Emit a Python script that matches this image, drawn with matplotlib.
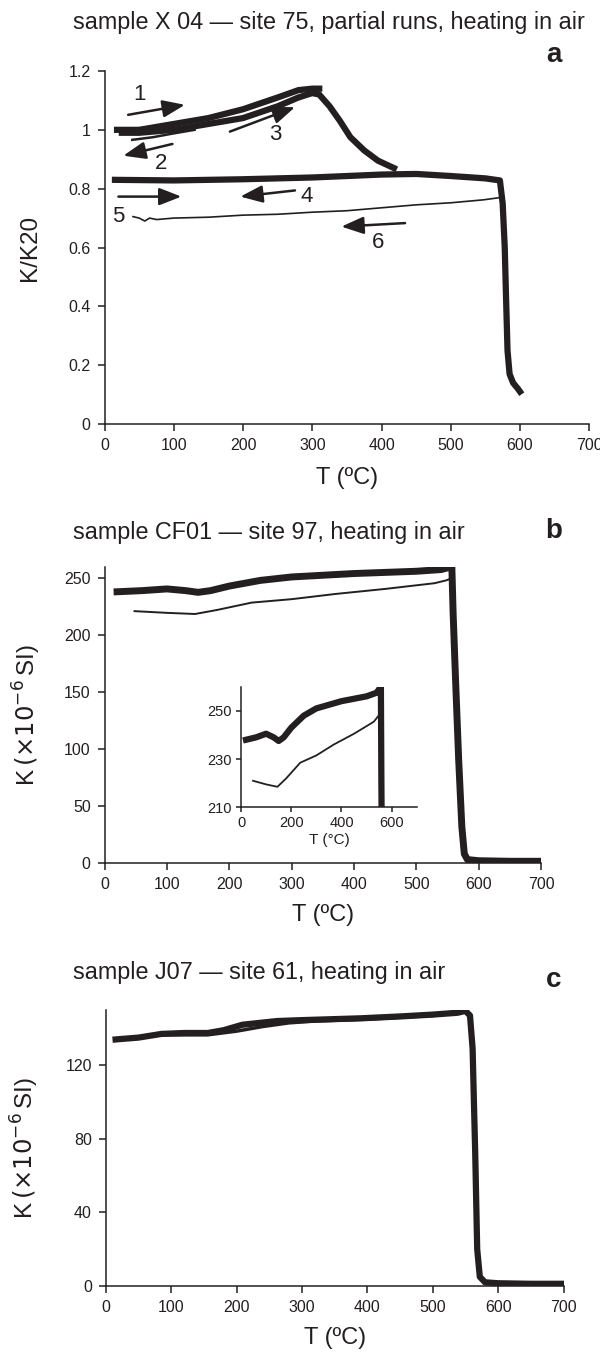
import numpy as np
import matplotlib
matplotlib.use("Agg")
import matplotlib.pyplot as plt
from matplotlib.ticker import FormatStrFormatter

plt.rcParams['font.family'] = ['Liberation Sans', 'DejaVu Sans']
ink = '#231f20'

# ---- panel a : sample X 04, partial runs (K/K20)
a_run1_T = [18, 50, 100, 150, 200, 250, 280, 300, 310]
a_run1_K = [1.00, 1.00, 1.02, 1.04, 1.07, 1.11, 1.135, 1.14, 1.14]
a_run2_T = [40, 70, 100, 130]
a_run2_K = [0.966, 0.975, 0.988, 1.00]
a_run3_T = [25, 50, 100, 150, 200, 250, 280, 300, 310, 325, 340, 355, 375, 395, 418]
a_run3_K = [0.99, 0.99, 1.00, 1.02, 1.04, 1.08, 1.11, 1.125, 1.12, 1.08, 1.03, 0.975, 0.93, 0.895, 0.87]
a_run4_T = [15, 100, 200, 300, 400, 450, 500, 550, 571, 575, 578, 580, 582, 585, 590, 597, 600]
a_run4_K = [0.83, 0.828, 0.832, 0.838, 0.848, 0.85, 0.843, 0.835, 0.828, 0.75, 0.6, 0.42, 0.25, 0.17, 0.14, 0.12, 0.11]
a_run6_T = [41, 50, 58, 65, 75, 100, 150, 200, 250, 300, 350, 400, 450, 500, 547, 566, 572]
a_run6_K = [0.705, 0.70, 0.69, 0.70, 0.695, 0.70, 0.703, 0.71, 0.713, 0.72, 0.725, 0.735, 0.745, 0.752, 0.762, 0.768, 0.77]

# ---- panel b : sample CF01 (K x 1e-6 SI)
b_heat_T = [20, 60, 100, 130, 150, 170, 200, 250, 300, 400, 500, 540, 557,
            559, 563, 568, 573, 577, 582, 600, 650, 700]
b_heat_K = [238, 239, 240.5, 239, 237.5, 239, 243, 248, 251, 254, 256, 257.5, 260,
            220, 160, 90, 32, 8, 3, 2, 1.5, 1.5]
b_cool_T = [48, 100, 145, 180, 236, 300, 369, 450, 529, 548, 557]
b_cool_K = [221, 219.5, 218.5, 222, 228.5, 231.5, 236, 240.5, 245.5, 248, 250]

# ---- panel c : sample J07
c_heat_T = [15, 50, 85, 120, 156, 180, 209, 262, 300, 391, 450, 500, 538, 550,
            557, 561, 563, 565, 568, 572, 580, 600, 650, 700]
c_heat_K = [134, 135, 137, 137.5, 137.5, 139, 142, 144, 144.5, 145.5, 146.5, 147.5, 148.5, 149.5,
            147, 129, 100, 72, 20, 5, 2, 1.5, 1.2, 1.2]
c_cool_T = [15, 85, 156, 200, 240, 280, 320, 400, 500, 550]
c_cool_K = [133.5, 136.5, 136.5, 138.5, 141, 143, 144, 145, 147, 149]

W, H = 600, 1353
fig = plt.figure(figsize=(W / 100, H / 100), dpi=100)


def box(x0, x1, ytop, ybot):
    return [x0 / W, 1 - ybot / H, (x1 - x0) / W, (ybot - ytop) / H]


def style(ax, size=11.5):
    for s in ['top', 'right']:
        ax.spines[s].set_visible(False)
    for s in ['left', 'bottom']:
        ax.spines[s].set_linewidth(1.1)
        ax.spines[s].set_color(ink)
    ax.tick_params(direction='out', length=5, width=1.1, colors=ink, labelsize=size, pad=5)


def labels(ax, ylab, x0, x1, ytop, ybot, ylab_x, xlab_y):
    ax.set_ylabel(ylab, fontsize=17.5, color=ink)
    ax.set_xlabel('T (ºC)', fontsize=17, color=ink)
    ax.yaxis.set_label_coords((ylab_x - x0) / (x1 - x0), 0.5)
    ax.yaxis.label.set_va('center')
    ax.xaxis.set_label_coords(0.5, (ybot - xlab_y) / (ybot - ytop))
    ax.xaxis.label.set_va('center')


def ftext(x, y, s, ha='center', **kw):
    fig.text(x / W, 1 - y / H, s, ha=ha, va='center', color=ink, **kw)


# panel a
ax = fig.add_axes(box(104.6, 589.2, 71, 424))
style(ax)
ax.plot(a_run6_T, a_run6_K, color=ink, lw=1.2)
ax.plot(a_run2_T, a_run2_K, color=ink, lw=1.8)
ax.plot(a_run1_T, a_run1_K, color=ink, lw=4.5)
ax.plot(a_run3_T, a_run3_K, color=ink, lw=4.5)
ax.plot(a_run4_T, a_run4_K, color=ink, lw=4.5)
ax.set_xlim(0, 700)
ax.set_ylim(0, 1.2)
ax.set_xticks(range(0, 701, 100))
ax.set_yticks([0, 0.2, 0.4, 0.6, 0.8, 1, 1.2])
ax.yaxis.set_major_formatter(FormatStrFormatter('%g'))
labels(ax, 'K/K20', 104.6, 589.2, 71, 424, 30, 478)

arrows = [((34, 1.051), (116, 1.085)), ((98, 0.952), (27, 0.912)),
          ((181, 0.994), (275, 1.077)), ((20, 0.773), (111, 0.773)),
          ((275, 0.794), (196, 0.773)), ((434, 0.683), (342, 0.671))]
for tail, head in arrows:
    ax.annotate('', xy=head, xytext=tail,
                arrowprops=dict(arrowstyle='-|>,head_length=0.9,head_width=0.35',
                                lw=1.8, color=ink, shrinkA=0, shrinkB=0, mutation_scale=15))
run_labels = [('1', 51, 1.119), ('2', 82, 0.887), ('3', 246, 0.983),
              ('4', 292, 0.773), ('5', 20, 0.707), ('6', 395, 0.617)]
for s, x, y in run_labels:
    ax.text(x, y, s, fontsize=16, color=ink, ha='center', va='center')

ftext(73, 22, 'sample X 04 — site 75, partial runs, heating in air', ha='left', fontsize=16.8)
ftext(554, 55, 'a', fontsize=20, fontweight='bold')

# panel b
ax = fig.add_axes(box(104.6, 541.0, 566.7, 863))
style(ax)
ax.plot(b_cool_T, b_cool_K, color=ink, lw=1.4)
ax.plot(b_heat_T, b_heat_K, color=ink, lw=5)
ax.set_xlim(0, 700)
ax.set_ylim(0, 260)
ax.set_xticks(range(0, 701, 100))
ax.set_yticks(range(0, 251, 50))
labels(ax, r'K$\,(\times10^{-6}\,$SI)', 104.6, 541.0, 566.7, 863, 27, 915)
ftext(73, 532, 'sample CF01 — site 97, heating in air', ha='left', fontsize=16.8)
ftext(554, 531, 'b', fontsize=20, fontweight='bold')

# inset of panel b
ins = fig.add_axes(box(241, 416.8, 686.7, 807.3))
style(ins, size=10.5)
ins.tick_params(length=3.5, pad=3)
ins.plot(b_cool_T, b_cool_K, color=ink, lw=1.3)
ins.plot(b_heat_T, b_heat_K, color=ink, lw=4.5)
ins.set_xlim(0, 700)
ins.set_ylim(210, 260)
ins.set_xticks([0, 200, 400, 600])
ins.set_yticks([210, 230, 250])
ins.set_xlabel('T (°C)', fontsize=11, color=ink, labelpad=2)

# panel c
ax = fig.add_axes(box(105.8, 563.5, 1010, 1286))
style(ax)
ax.plot(c_cool_T, c_cool_K, color=ink, lw=2.5)
ax.plot(c_heat_T, c_heat_K, color=ink, lw=4.5)
ax.set_xlim(0, 700)
ax.set_ylim(0, 150)
ax.set_xticks(range(0, 701, 100))
ax.set_yticks([0, 40, 80, 120])
labels(ax, r'K$\,(\times10^{-6}\,$SI)', 105.8, 563.5, 1010, 1286, 25, 1338)
ftext(73, 973, 'sample J07 — site 61, heating in air', ha='left', fontsize=16.8)
ftext(554, 980, 'c', fontsize=20, fontweight='bold')

fig.savefig('out.png', dpi=100)
